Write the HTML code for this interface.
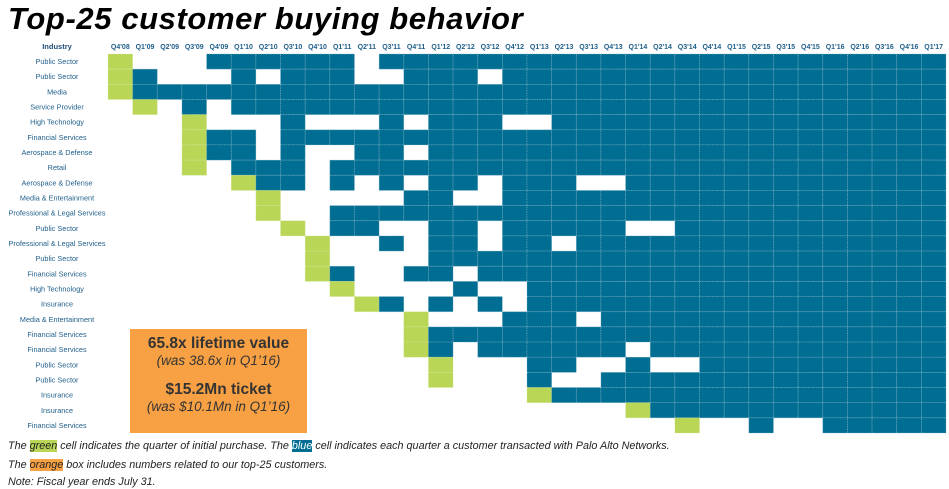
<!DOCTYPE html>
<html><head><meta charset="utf-8">
<style>
body{margin:0;background:#fff;width:949px;height:489px;overflow:hidden;font-family:"Liberation Sans",sans-serif;}
#title{position:absolute;left:8px;top:1px;font-size:31px;font-weight:bold;font-style:italic;color:#000;letter-spacing:0.6px;}
#box{position:absolute;left:130px;top:329px;width:177px;height:104px;background:#f7a144;text-align:center;color:#333;}
.big{font-weight:bold;font-size:15.5px;}
.sm{font-style:italic;font-size:13.5px;}
.note{position:absolute;left:8px;font-size:10.8px;font-style:italic;color:#222;}
.hg{background:#b9d656;}.hb{background:#006e92;color:#fff;}.ho{background:#f7a144;}
</style></head><body>
<div id="title">Top-25 customer buying behavior</div>
<svg id="chart" width="949" height="489" style="position:absolute;left:0;top:0"></svg>
<div id="box">
<div class="big" style="margin-top:6px">65.8x lifetime value</div>
<div class="sm">(was 38.6x in Q1’16)</div>
<div class="big" style="margin-top:13px">$15.2Mn ticket</div>
<div class="sm">(was $10.1Mn in Q1’16)</div>
</div>
<div class="note" style="top:440px">The <span class="hg">green</span> cell indicates the quarter of initial purchase. The <span class="hb">blue</span> cell indicates each quarter a customer transacted with Palo Alto Networks.</div>
<div class="note" style="top:459px">The <span class="ho">orange</span> box includes numbers related to our top-25 customers.</div>
<div class="note" style="top:476px">Note: Fiscal year ends July 31.</div>
<script>
const quarters=["Q4'08","Q1'09","Q2'09","Q3'09","Q4'09","Q1'10","Q2'10","Q3'10","Q4'10","Q1'11","Q2'11","Q3'11","Q4'11","Q1'12","Q2'12","Q3'12","Q4'12","Q1'13","Q2'13","Q3'13","Q4'13","Q1'14","Q2'14","Q3'14","Q4'14","Q1'15","Q2'15","Q3'15","Q4'15","Q1'16","Q2'16","Q3'16","Q4'16","Q1'17"];
const industries=["Public Sector","Public Sector","Media","Service Provider","High Technology","Financial Services","Aerospace & Defense","Retail","Aerospace & Defense","Media & Entertainment","Professional & Legal Services","Public Sector","Professional & Legal Services","Public Sector","Financial Services","High Technology","Insurance","Media & Entertainment","Financial Services","Financial Services","Public Sector","Public Sector","Insurance","Insurance","Financial Services"];
// G = initial purchase, B = transacted, . = none
const activity=[
"G...BBBBBB.BBBBBBBBBBBBBBBBBBBBBBB",
"GB...B.BBB..BBB.BBBBBBBBBBBBBBBBBB",
"GBBBBBBBBBBBBBBBBBBBBBBBBBBBBBBBBB",
".G.B.BBBBBBBBBBBBBBBBBBBBBBBBBBBBB",
"...G...B...B.BBB..BBBBBBBBBBBBBBBB",
"...GBB.BBBBBBBBBBBBBBBBBBBBBBBBBBB",
"...GBB.B..BB.BBBBBBBBBBBBBBBBBBBBB",
"...G.BBB.BBBBBBBBBBBBBBBBBBBBBBBBB",
".....GBB.B.B.BB.BBB..BBBBBBBBBBBBB",
"......G.....BB..BBBBBBBBBBBBBBBBBB",
"......G..BBBBBBBBBBBBBBBBBBBBBBBBB",
".......G.BB..BB.BBBBB..BBBBBBBBBBB",
"........G..B.BB.BB.BBBBBBBBBBBBBBB",
"........G....BBBBBBBBBBBBBBBBBBBBB",
"........GB..BB.BBBBBBBBBBBBBBBBBBB",
".........G....B..BBBBBBBBBBBBBBBBB",
"..........GB.B.B.BBBBBBBBBBBBBBBBB",
"............G...BBB.BBBBBBBBBBBBBB",
"............GBBBBBBBBBBBBBBBBBBBBB",
"............GB.BBBBBB.BBBBBBBBBBBB",
".............G...BB..B..BBBBBBBBBB",
".............G...B..BBBBBBBBBBBBBB",
".................GBBBBBBBBBBBBBBBB",
".....................GBBBBBBBBBBBB",
".......................G..B..BBBBB"];
const svg=document.getElementById('chart');const NS='http://www.w3.org/2000/svg';
const x0=108,x1=946,y0=54,y1=433;
const cw=(x1-x0)/quarters.length,rh=(y1-y0)/industries.length;
const xs=i=>x0+i*cw, ys=j=>y0+j*rh;
function mk(t,a){const e=document.createElementNS(NS,t);for(const k in a)e.setAttribute(k,a[k]);svg.appendChild(e);return e;}
let h=mk('text',{x:57,y:49,'text-anchor':'middle','font-size':7.5,'font-weight':'bold',fill:'#1f4e79','font-family':'Liberation Sans, sans-serif'});h.textContent='Industry';


quarters.forEach((q,i)=>{const t=mk('text',{x:xs(i)+cw/2,y:49,'text-anchor':'middle','font-size':7,'font-weight':'bold',fill:'#1f5f8b','font-family':'Liberation Sans, sans-serif'});t.textContent=q;

});
industries.forEach((n,j)=>{const t=mk('text',{x:57,y:ys(j)+rh/2+2.5,'text-anchor':'middle','font-size':7.3,fill:'#1f5f8b','font-family':'Liberation Sans, sans-serif'});t.textContent=n;

});
activity.forEach((row,j)=>{[...row].forEach((c,i)=>{if(c==='.')return;
const r=mk('rect',{x:xs(i),y:ys(j),width:cw,height:rh,fill:c==='G'?'#b9d656':'#006e92',stroke:c==='G'?'#d6e89a':'#7fb0c6','stroke-width':0.7,'stroke-dasharray':'1 1.5'});

});});
</script>
</body></html>
